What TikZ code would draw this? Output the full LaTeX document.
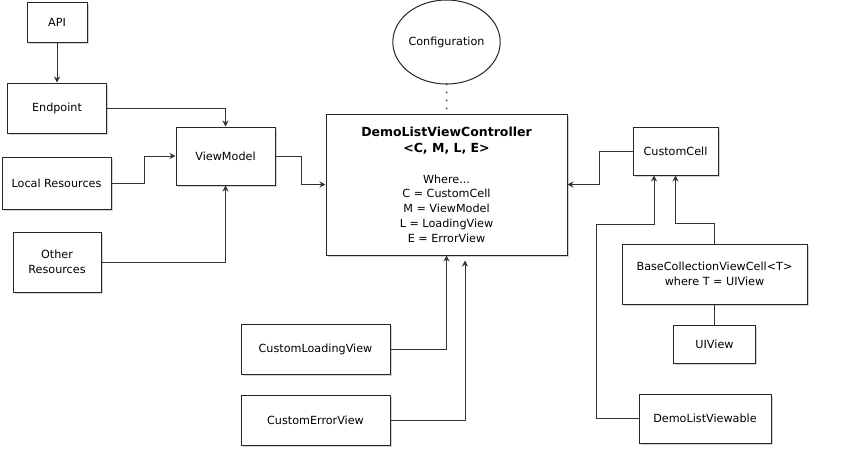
\documentclass[tikz,border=0pt]{standalone}
\usepackage{fontspec}
\setmainfont{DejaVu Sans}
\usetikzlibrary{positioning,arrows.meta,shadows,calc,shapes.geometric}
\newcommand{\ctrltitle}[1]{\fontsize{12.5}{18}\selectfont\bfseries #1}

\begin{document}
\begin{tikzpicture}[x=1pt,y=-1pt,line width=1pt,
    font=\fontsize{11.2}{14.8}\selectfont,
    box node/.style={rectangle,draw=black!85,fill=white,inner sep=2pt,align=center,
        drop shadow={shadow xshift=1.5pt,shadow yshift=-1.5pt,opacity=0.35}},
    link/.style={draw=black!80,-{Stealth[length=6pt,width=6pt]}},
    plain link/.style={draw=black!80}]
    \useasboundingbox (0,0) rectangle (848,458);

    % left column
    \node[box node,minimum width=60pt,minimum height=40pt] (api) at (57,22) {API};
    \node[box node,minimum width=99pt,minimum height=50pt] (endpoint) [below=40pt of api] {Endpoint};
    \node[box node,minimum width=109pt,minimum height=52pt] (localres) at (56.5,183) {Local Resources};
    \node[box node,minimum width=88pt,minimum height=60pt] (otherres) at (57,262) {Other\\Resources};
    \node[box node,minimum width=99pt,minimum height=58pt] (viewmodel) at (225.5,156) {ViewModel};

    % controller
    \node[box node,minimum width=241pt,minimum height=141pt] (controller) at (446.5,184.5)
        {\ctrltitle{DemoListViewController}\\[2pt]\ctrltitle{<C, M, L, E>}\\[15.5pt]
         Where...\\C = CustomCell\\M = ViewModel\\L = LoadingView\\E = ErrorView};
    \node[ellipse,draw=black!85,fill=white,minimum width=90pt,minimum height=84pt,inner sep=0pt] (config)
        [above=29pt of controller] {Configuration};

    \node[box node,minimum width=149pt,minimum height=50pt] (loading) at (315.5,349) {CustomLoadingView};
    \node[box node,minimum width=149pt,minimum height=50pt] (error) [below=20pt of loading] {CustomErrorView};

    % right column
    \node[box node,minimum width=85pt,minimum height=48pt] (customcell) at (675.5,151) {CustomCell};
    \node[box node,minimum width=185pt,minimum height=60pt] (basecell) at (714.5,274)
        {BaseCollectionViewCell<T>\\where T = UIView};
    \node[box node,minimum width=82pt,minimum height=38pt] (uiview) [below=20pt of basecell] {UIView};
    \node[box node,minimum width=132pt,minimum height=49pt] (viewable) at (705,418.5) {DemoListViewable};

    \path[link]
        (api) edge (endpoint);
    \draw[link] (endpoint.east) -| (viewmodel.north);
    \draw[link] (localres.east) -- ++(33,0) |- (viewmodel.west);
    \draw[link] (otherres.east) -| (viewmodel.south);
    \draw[link] (viewmodel.east) -- ++(26,0) |- (controller.west);
    \draw[draw=black!75,line width=2pt,line cap=round,dash pattern=on 0pt off 8pt]
        (config.south) -- (controller.north);
    \draw[link] (customcell.west) -- ++(-33,0) |- (controller.east);
    \draw[link] (loading.east) -| (controller.south);
    \draw[link] (error.east) -| ($(controller.south)+(18.5,5)$);
    \draw[link] (basecell.north) -- ++(0,-20) -| (customcell.south);
    \draw[link] (viewable.west) -- ++(-42,0) |- ($(customcell.south)+(-21.5,49)$)
        -- ($(customcell.south)+(-21.5,0)$);
    \draw[plain link] (basecell.south) -- (uiview.north);
\end{tikzpicture}
\end{document}
